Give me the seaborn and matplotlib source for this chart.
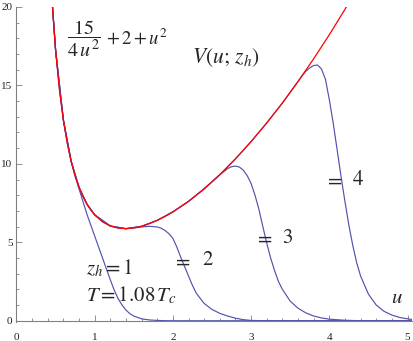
import numpy as np
import pandas as pd
import matplotlib
matplotlib.use("Agg")
import matplotlib.pyplot as plt
import seaborn as sns
from matplotlib.ticker import MultipleLocator

# red envelope: 15/(4u^2) + 2 + u^2
u_red = [0.45, 0.5, 0.55, 0.6, 0.65, 0.7, 0.75, 0.8, 0.85, 0.9, 0.95, 1.0, 1.1, 1.2, 1.3, 1.4,
         1.5, 1.6, 1.7, 1.8, 1.9, 2.0, 2.2, 2.4, 2.6, 2.8, 3.0, 3.2, 3.4, 3.6, 3.8, 4.0, 4.2, 4.3]
v_red = [20.72, 17.25, 14.70, 12.78, 11.30, 10.14, 9.23, 8.50, 7.91, 7.44, 7.06, 6.75, 6.31, 6.04, 5.91, 5.87,
         5.92, 6.02, 6.19, 6.40, 6.65, 6.94, 7.61, 8.41, 9.31, 10.32, 11.42, 12.61, 13.88, 15.25, 16.70, 18.23, 19.85, 20.69]

# V(u; z_h) for z_h = 1
u_zh1 = [0.45, 0.5, 0.55, 0.6, 0.65, 0.7, 0.75, 0.8, 0.85, 0.9, 0.95, 1.0, 1.05, 1.1, 1.15, 1.2,
         1.25, 1.3, 1.35, 1.4, 1.45, 1.5, 1.6, 1.7, 1.8, 1.9, 2.0, 5.06]
v_zh1 = [20.72, 17.25, 14.70, 12.78, 11.30, 10.14, 9.2, 8.4, 7.6, 6.8, 6.1, 5.4, 4.7, 4.0, 3.3, 2.6,
         1.95, 1.4, 1.0, 0.68, 0.45, 0.3, 0.12, 0.05, 0.02, 0.005, 0.0, 0.0]

# z_h = 2
u_zh2 = [0.45, 0.5, 0.6, 0.7, 0.8, 0.9, 1.0, 1.1, 1.2, 1.3, 1.4, 1.5, 1.6, 1.7, 1.8, 1.85, 1.9, 1.95,
         2.0, 2.05, 2.1, 2.15, 2.2, 2.25, 2.3, 2.4, 2.5, 2.6, 2.7, 2.8, 2.9, 3.0, 3.2, 5.06]
v_zh2 = [20.72, 17.25, 12.78, 10.14, 8.50, 7.44, 6.75, 6.31, 6.04, 5.91, 5.87, 5.91, 5.98, 6.02, 5.98, 5.9, 5.75, 5.55,
         5.25, 4.7, 4.05, 3.45, 2.85, 2.25, 1.75, 1.1, 0.72, 0.47, 0.3, 0.16, 0.07, 0.02, 0.0, 0.0]

# z_h = 3
u_zh3 = [0.45, 0.5, 0.6, 0.7, 0.8, 0.9, 1.0, 1.2, 1.4, 1.6, 1.8, 2.0, 2.2, 2.4, 2.6, 2.65, 2.7, 2.75,
         2.8, 2.85, 2.9, 2.95, 3.0, 3.05, 3.1, 3.15, 3.2, 3.25, 3.3, 3.35, 3.4, 3.5, 3.6, 3.7, 3.8,
         3.9, 4.0, 4.2, 4.4, 5.06]
v_zh3 = [20.72, 17.25, 12.78, 10.14, 8.50, 7.44, 6.75, 6.04, 5.87, 6.02, 6.40, 6.94, 7.61, 8.41, 9.31, 9.5, 9.7, 9.82,
         9.86, 9.8, 9.6, 9.25, 8.75, 8.0, 7.1, 6.0, 4.95, 4.0, 3.2, 2.5, 2.0, 1.25, 0.8, 0.5, 0.3,
         0.18, 0.1, 0.03, 0.0, 0.0]

# z_h = 4
u_zh4 = [0.45, 0.5, 0.6, 0.7, 0.8, 0.9, 1.0, 1.2, 1.4, 1.6, 1.8, 2.0, 2.2, 2.4, 2.6, 2.8, 3.0, 3.2,
         3.4, 3.6, 3.65, 3.7, 3.75, 3.8, 3.85, 3.9, 3.95, 4.0, 4.05, 4.1, 4.15, 4.2, 4.25, 4.3, 4.35,
         4.4, 4.5, 4.6, 4.7, 4.8, 4.9, 5.0, 5.06]
v_zh4 = [20.72, 17.25, 12.78, 10.14, 8.50, 7.44, 6.75, 6.04, 5.87, 6.02, 6.40, 6.94, 7.61, 8.41, 9.31, 10.32, 11.42, 12.61,
         13.88, 15.25, 15.6, 15.9, 16.12, 16.27, 16.3, 16.05, 15.4, 14.1, 12.6, 10.9, 9.2, 7.6, 6.1, 4.8, 3.7,
         2.85, 1.7, 1.0, 0.6, 0.36, 0.21, 0.12, 0.08]

blue_curves = [(u_zh1, v_zh1), (u_zh2, v_zh2), (u_zh3, v_zh3), (u_zh4, v_zh4)]

sns.set_style("ticks")
plt.rcParams['font.family'] = ['Liberation Serif', 'DejaVu Serif']
plt.rcParams['mathtext.fontset'] = 'stix'

fig = plt.figure(figsize=(4.14, 3.41), dpi=100)
ax = fig.add_axes([16.5 / 414, 19 / 341, 395.7 / 414, 315 / 341])

blue = '#5252ac'
for uu, vv in blue_curves:
    sns.lineplot(x=uu, y=vv, ax=ax, color=blue, lw=0.85, sort=False, estimator=None)
sns.lineplot(x=u_red, y=v_red, ax=ax, color='#ff0000', lw=0.9, sort=False, estimator=None)

ax.set_xlim(0, 5.06)
ax.set_ylim(-0.08, 20)
ax.spines['bottom'].set_position(('data', 0))
ax.spines['top'].set_visible(False)
ax.spines['right'].set_visible(False)
for s in ['left', 'bottom']:
    ax.spines[s].set_color('#808080')
    ax.spines[s].set_linewidth(0.8)

ax.xaxis.set_major_locator(MultipleLocator(1))
ax.xaxis.set_minor_locator(MultipleLocator(0.2))
ax.yaxis.set_major_locator(MultipleLocator(5))
ax.yaxis.set_minor_locator(MultipleLocator(1))
ax.tick_params(which='both', direction='in', color='#808080', width=0.6, labelsize=8, labelcolor='#222222')
ax.tick_params(which='major', length=4.5)
ax.tick_params(which='minor', length=2.5)
ax.tick_params(axis='y', pad=3)
ax.tick_params(axis='x', pad=8.5)
ax.set_yticks([0, 5, 10, 15, 20])
ax.set_xlabel('')
ax.set_ylabel('')

fs = 15
# formula label: fraction and the rest as two pieces
ax.text(0.65, 18.0, r'$\dfrac{15}{4\,u^2}$', fontsize=14.5, ha='left', va='center')
ax.text(1.15, 18.05, r'$+\,2+u^2$', fontsize=13.5, ha='left', va='center')
ax.text(2.24, 16.8, r'$V(u;\,z_h)$', fontsize=15.5, ha='left', va='center')
ax.text(0.89, 3.35, r'$z_h=1$', fontsize=fs, ha='left', va='center')
ax.text(0.89, 1.6, r'$T=1.08\,T_c$', fontsize=fs, ha='left', va='center')
ax.text(2.10, 3.75, r'$=$', fontsize=fs, ha='center', va='center')
ax.text(2.45, 3.87, r'$2$', fontsize=fs, ha='center', va='center')
ax.text(3.15, 5.2, r'$=$', fontsize=fs, ha='center', va='center')
ax.text(3.47, 5.27, r'$3$', fontsize=fs, ha='center', va='center')
ax.text(4.05, 8.9, r'$=$', fontsize=fs, ha='center', va='center')
ax.text(4.37, 8.95, r'$4$', fontsize=fs, ha='center', va='center')
ax.text(4.86, 1.4, r'$u$', fontsize=fs, ha='center', va='center')

fig.savefig('out.png', dpi=100)
